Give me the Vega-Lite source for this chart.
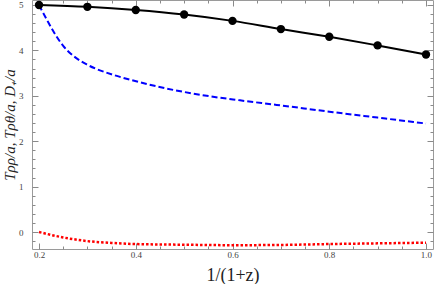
{
  "$schema": "https://vega.github.io/schema/vega-lite/v6.json",
  "width": 401,
  "height": 249,
  "autosize": {"type": "none"},
  "padding": {"left": 32, "top": 0, "right": 3, "bottom": 35},
  "background": "white",
  "config": {
    "view": {"stroke": "#9a9a9a", "strokeWidth": 1},
    "axis": {
      "domain": false,
      "grid": false,
      "labelFont": "Liberation Serif",
      "labelFontSize": 9,
      "labelColor": "#444444",
      "tickColor": "#8a8a8a",
      "labelOverlap": false,
      "labelFlush": false,
      "titleFont": "Liberation Serif",
      "titleColor": "#222222",
      "titleFontWeight": "normal"
    }
  },
  "data": {
    "values": [
      {"series": "black", "x": 0.2, "y": 5.0},
      {"series": "black", "x": 0.3, "y": 4.96},
      {"series": "black", "x": 0.4, "y": 4.89},
      {"series": "black", "x": 0.5, "y": 4.79},
      {"series": "black", "x": 0.6, "y": 4.65},
      {"series": "black", "x": 0.7, "y": 4.47},
      {"series": "black", "x": 0.8, "y": 4.3},
      {"series": "black", "x": 0.9, "y": 4.11},
      {"series": "black", "x": 1.0, "y": 3.91},
      {"series": "blue", "x": 0.2, "y": 5.0},
      {"series": "blue", "x": 0.2056, "y": 4.885},
      {"series": "blue", "x": 0.216, "y": 4.68},
      {"series": "blue", "x": 0.2296, "y": 4.42},
      {"series": "blue", "x": 0.25, "y": 4.1},
      {"series": "blue", "x": 0.271, "y": 3.88},
      {"series": "blue", "x": 0.2986, "y": 3.69},
      {"series": "blue", "x": 0.319, "y": 3.59},
      {"series": "blue", "x": 0.354, "y": 3.46},
      {"series": "blue", "x": 0.388, "y": 3.355},
      {"series": "blue", "x": 0.4226, "y": 3.26},
      {"series": "blue", "x": 0.4466, "y": 3.2},
      {"series": "blue", "x": 0.4777, "y": 3.13},
      {"series": "blue", "x": 0.5467, "y": 3.0},
      {"series": "blue", "x": 0.6155, "y": 2.9},
      {"series": "blue", "x": 0.6913, "y": 2.8},
      {"series": "blue", "x": 0.808, "y": 2.64},
      {"series": "blue", "x": 0.9, "y": 2.52},
      {"series": "blue", "x": 1.0, "y": 2.39},
      {"series": "red", "x": 0.2, "y": 0.0},
      {"series": "red", "x": 0.25, "y": -0.12},
      {"series": "red", "x": 0.3, "y": -0.2},
      {"series": "red", "x": 0.35, "y": -0.24},
      {"series": "red", "x": 0.4, "y": -0.265},
      {"series": "red", "x": 0.5, "y": -0.28},
      {"series": "red", "x": 0.6, "y": -0.29},
      {"series": "red", "x": 0.7, "y": -0.285},
      {"series": "red", "x": 0.8, "y": -0.265},
      {"series": "red", "x": 0.9, "y": -0.25},
      {"series": "red", "x": 1.0, "y": -0.235}
    ]
  },
  "layer": [
    {
      "transform": [{"filter": "datum.series === 'red'"}],
      "mark": {"type": "line", "color": "#ff0000", "strokeWidth": 2.5, "strokeDash": [2.5, 2], "interpolate": "monotone"},
      "encoding": {
        "x": {"field": "x", "type": "quantitative", "scale": {"domain": [0.1855, 1.0145], "nice": false, "zero": false},
          "axis": {"orient": "top", "title": null, "labels": false,
            "values": [0.2,0.25,0.3,0.35,0.4,0.45,0.5,0.55,0.6,0.65,0.7,0.75,0.8,0.85,0.9,0.95,1.0],
            "tickSize": {"condition": {"test": "abs(datum.value*5 - round(datum.value*5)) < 0.001", "value": -6}, "value": -3}}},
        "y": {"field": "y", "type": "quantitative", "scale": {"domain": [-0.374, 5.11], "nice": false, "zero": false},
          "axis": {"orient": "right", "title": null, "labels": false,
            "values": [-0.2,0,0.2,0.4,0.6,0.8,1,1.2,1.4,1.6,1.8,2,2.2,2.4,2.6,2.8,3,3.2,3.4,3.6,3.8,4,4.2,4.4,4.6,4.8,5],
            "tickSize": {"condition": {"test": "abs(datum.value - round(datum.value)) < 0.001", "value": -6}, "value": -3}}}
      }
    },
    {
      "transform": [{"filter": "datum.series === 'blue'"}],
      "mark": {"type": "line", "color": "#0000ff", "strokeWidth": 2, "strokeDash": [6, 3], "interpolate": "monotone"},
      "encoding": {
        "x": {"field": "x", "type": "quantitative", "axis": null},
        "y": {"field": "y", "type": "quantitative", "axis": null}
      }
    },
    {
      "transform": [{"filter": "datum.series === 'black'"}],
      "mark": {"type": "line", "color": "#000000", "strokeWidth": 2, "interpolate": "monotone"},
      "encoding": {
        "x": {"field": "x", "type": "quantitative",
          "axis": {"orient": "bottom", "title": "1/(1+z)", "titleFontSize": 18, "titlePadding": 4, "labelPadding": 7,
            "values": [0.2,0.25,0.3,0.35,0.4,0.45,0.5,0.55,0.6,0.65,0.7,0.75,0.8,0.85,0.9,0.95,1.0],
            "labelExpr": "abs(datum.value*5 - round(datum.value*5)) < 0.001 ? format(datum.value, '.1f') : ''",
            "tickSize": {"condition": {"test": "abs(datum.value*5 - round(datum.value*5)) < 0.001", "value": -6}, "value": -3}}},
        "y": {"field": "y", "type": "quantitative",
          "axis": {"orient": "left", "title": "Tρρ/a, Tρθ/a, D₊/a", "titleFontSize": 15, "titleFontStyle": "italic", "titlePadding": 1, "labelPadding": 15,
            "values": [-0.2,0,0.2,0.4,0.6,0.8,1,1.2,1.4,1.6,1.8,2,2.2,2.4,2.6,2.8,3,3.2,3.4,3.6,3.8,4,4.2,4.4,4.6,4.8,5],
            "labelExpr": "abs(datum.value - round(datum.value)) < 0.001 ? format(datum.value, 'd') : ''",
            "tickSize": {"condition": {"test": "abs(datum.value - round(datum.value)) < 0.001", "value": -6}, "value": -3}}}
      }
    },
    {
      "transform": [{"filter": "datum.series === 'black'"}],
      "mark": {"type": "point", "filled": true, "color": "#000000", "opacity": 1, "size": 70},
      "encoding": {
        "x": {"field": "x", "type": "quantitative", "axis": null},
        "y": {"field": "y", "type": "quantitative", "axis": null}
      }
    }
  ],
  "resolve": {"axis": {"x": "independent", "y": "independent"}}
}
